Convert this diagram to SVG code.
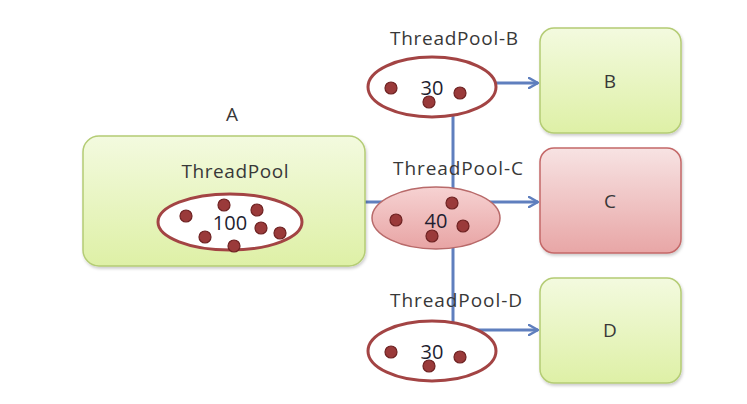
<svg xmlns="http://www.w3.org/2000/svg" width="747" height="404" viewBox="0 0 747 404">
<defs>
<linearGradient id="gGreen" x1="0" y1="0" x2="0" y2="1"><stop offset="0" stop-color="#f3fadf"/><stop offset="1" stop-color="#def0a6"/></linearGradient>
<linearGradient id="gPink" x1="0" y1="0" x2="0" y2="1"><stop offset="0" stop-color="#f7e3e3"/><stop offset="1" stop-color="#e8a6a6"/></linearGradient>
<linearGradient id="gPinkE" x1="0" y1="0" x2="0" y2="1"><stop offset="0" stop-color="#f6d2d2"/><stop offset="1" stop-color="#e8a4a4"/></linearGradient>
<filter id="sh" x="-10%" y="-10%" width="130%" height="130%"><feDropShadow dx="1" dy="2" stdDeviation="1.5" flood-color="#000" flood-opacity="0.2"/></filter>
<marker id="arr" viewBox="0 0 12 12" refX="10" refY="6" markerWidth="12" markerHeight="12" markerUnits="userSpaceOnUse" orient="auto"><path d="M1,1 L10,6 L1,11" fill="none" stroke="#5f7fbe" stroke-width="2.5" stroke-linecap="round" stroke-linejoin="round"/></marker>
</defs>
<style>
.box-g{fill:url(#gGreen);stroke:#b4cc74;stroke-width:1.5;filter:url(#sh)}
.box-p{fill:url(#gPink);stroke:#c46868;stroke-width:1.5;filter:url(#sh)}
.pool{fill:#fff;stroke:#a34444;stroke-width:3}
.pool-c{fill:url(#gPinkE);stroke:#b86a6a;stroke-width:1.5}
.dot{fill:#9a3a3a;stroke:#6e2222;stroke-width:1.2}
.lbl{font-family:"Open Sans","Noto Sans",sans-serif;font-size:19px;fill:#383838;text-anchor:middle}
.num{font-family:"Open Sans","Noto Sans",sans-serif;font-size:20px;fill:#1e1e30;text-anchor:middle}
.conn{fill:none;stroke:#5f7fbe;stroke-width:3}
</style>
<g id="connectors">
<line class="conn" x1="453" y1="110" x2="453" y2="330"/>
<line class="conn" x1="440" y1="83" x2="538" y2="83" marker-end="url(#arr)"/>
<line class="conn" x1="360" y1="202" x2="538" y2="202" marker-end="url(#arr)"/>
<line class="conn" x1="453" y1="330" x2="538" y2="330" marker-end="url(#arr)"/>
</g>
<g id="nodeA">
<text class="lbl" x="232" y="121">A</text>
<rect class="box-g" x="83" y="136" width="282" height="130" rx="16"/>
<text class="lbl" x="235" y="178" textLength="107" lengthAdjust="spacing">ThreadPool</text>
<ellipse class="pool" cx="230" cy="222" rx="72" ry="28"/>
<text class="num" x="230" y="230">100</text>
<circle class="dot" cx="186" cy="216" r="6"/>
<circle class="dot" cx="224" cy="205" r="6"/>
<circle class="dot" cx="257" cy="210" r="6"/>
<circle class="dot" cx="261" cy="228" r="6"/>
<circle class="dot" cx="280" cy="233" r="6"/>
<circle class="dot" cx="205" cy="237" r="6"/>
<circle class="dot" cx="234" cy="246" r="6"/>
</g>
<g id="poolB">
<text class="lbl" x="454" y="45" textLength="128" lengthAdjust="spacing">ThreadPool-B</text>
<ellipse class="pool" cx="432" cy="87" rx="64" ry="30"/>
<text class="num" x="432" y="95">30</text>
<circle class="dot" cx="391" cy="88" r="6"/>
<circle class="dot" cx="429" cy="102" r="6"/>
<circle class="dot" cx="460" cy="93" r="6"/>
</g>
<g id="poolC">
<text class="lbl" x="458" y="175" textLength="130" lengthAdjust="spacing">ThreadPool-C</text>
<ellipse class="pool-c" cx="436" cy="218" rx="64" ry="31"/>
<text class="num" x="436" y="228">40</text>
<circle class="dot" cx="396" cy="220" r="6"/>
<circle class="dot" cx="452" cy="203" r="6"/>
<circle class="dot" cx="463" cy="226" r="6"/>
<circle class="dot" cx="432" cy="236" r="6"/>
</g>
<g id="poolD">
<text class="lbl" x="456" y="307" textLength="132" lengthAdjust="spacing">ThreadPool-D</text>
<ellipse class="pool" cx="432" cy="351" rx="64" ry="30"/>
<text class="num" x="432" y="359">30</text>
<circle class="dot" cx="391" cy="352" r="6"/>
<circle class="dot" cx="429" cy="366" r="6"/>
<circle class="dot" cx="460" cy="357" r="6"/>
</g>
<g id="nodeB">
<rect class="box-g" x="540" y="28" width="141" height="105" rx="14"/>
<text class="lbl" x="610" y="88">B</text>
</g>
<g id="nodeC">
<rect class="box-p" x="540" y="148" width="141" height="105" rx="14"/>
<text class="lbl" x="610" y="208">C</text>
</g>
<g id="nodeD">
<rect class="box-g" x="540" y="278" width="141" height="105" rx="14"/>
<text class="lbl" x="610" y="337">D</text>
</g>
</svg>
